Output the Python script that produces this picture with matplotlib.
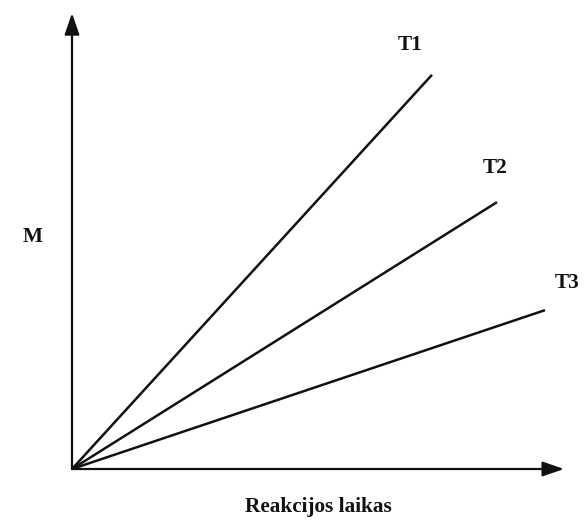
import matplotlib
matplotlib.use("Agg")
import matplotlib.pyplot as plt

series = ["T1", "T2", "T3"]
end_time = [7.2, 8.5, 9.46]
end_m = [8.76, 5.93, 3.53]
label_x = [6.76, 8.46, 9.9]
label_y = [9.42, 6.69, 4.13]

fig = plt.figure(figsize=(5.84, 5.22), dpi=100)
ax = fig.add_axes([72/584, 53/522, 500/584, 450/522])
ax.set_xlim(0, 10)
ax.set_ylim(0, 10)
ax.axis("off")

font = dict(family="Liberation Serif", fontweight="bold", fontsize=15.3, color="#111111")

for name, xe, ye, lx, ly in zip(series, end_time, end_m, label_x, label_y):
    ax.plot([0, xe], [0, ye], color="#111111", lw=1.8, solid_capstyle="butt", clip_on=False)
    ax.text(lx, ly, name, ha="center", va="center", **font)

ax.annotate("", xy=(0, 10.13), xytext=(0, 0),
            arrowprops=dict(arrowstyle="-|>,head_length=1.3,head_width=0.45", color="#111111", lw=1.6,
                            shrinkA=0, shrinkB=0), annotation_clip=False)
ax.annotate("", xy=(9.84, 0), xytext=(0, 0),
            arrowprops=dict(arrowstyle="-|>,head_length=1.3,head_width=0.45", color="#111111", lw=1.6,
                            shrinkA=0, shrinkB=0), annotation_clip=False)

ax.text(-0.78, 5.16, "M", ha="center", va="center", **font)
ax.text(4.92, -0.84, "Reakcijos laikas", ha="center", va="center", **font)

fig.savefig("out.png", dpi=100)
